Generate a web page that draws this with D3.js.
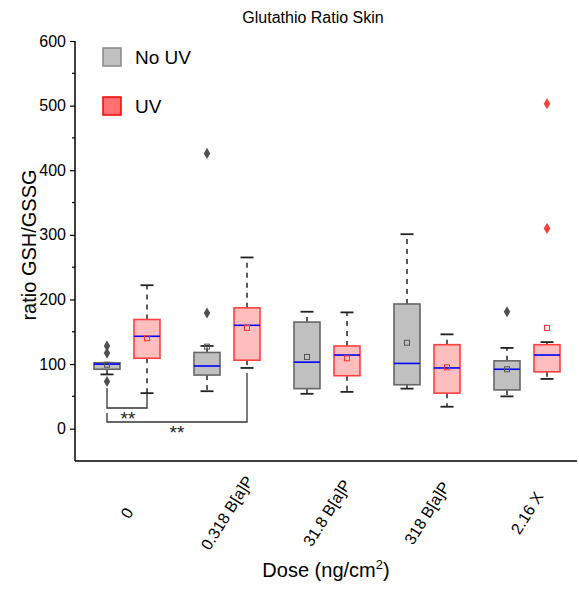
<!DOCTYPE html>
<html><head><meta charset="utf-8">
<script src="https://cdn.jsdelivr.net/npm/d3@7"></script>
<style>body{margin:0;background:#fff}svg{display:block;font-family:"Liberation Sans",Arial,sans-serif}</style>
</head><body><svg id="c" width="579" height="589"></svg>
<script>
const categories = ["0", "0.318 B[a]P", "31.8 B[a]P", "318 B[a]P", "2.16 X"];
const seriesNames = ["No UV", "UV"];
const yTicks = [0, 100, 200, 300, 400, 500, 600];

// No UV
const noUvWhiskerLow = [84, 58, 54, 62, 50];
const noUvQ1 = [92, 83, 62, 68, 60];
const noUvMedian = [100, 97, 103, 101, 92];
const noUvQ3 = [102, 118, 165, 193, 105];
const noUvWhiskerHigh = [102, 128, 181, 301, 125];
const noUvMean = [99, 127, 111, 133, 92];
const noUvOutliers = [[128, 117, 73], [179, 426], [], [], [181]];

// UV
const uvWhiskerLow = [55, 94, 57, 34, 77];
const uvQ1 = [109, 106, 82, 55, 88];
const uvMedian = [143, 160, 114, 94, 114];
const uvQ3 = [169, 187, 128, 130, 130];
const uvWhiskerHigh = [222, 265, 180, 146, 134];
const uvMean = [140, 156, 109, 95, 156];
const uvOutliers = [[], [], [], [], [503, 310]];

const sigLabels = ["**", "**"];

const svg = d3.select("#c");
const y = d3.scaleLinear().domain([-50, 600]).range([461, 41]);
const x = d3.scaleBand().domain(categories).range([77, 577]);
const cx = c => x(c) + x.bandwidth() / 2;
const off = [-20, 20];
const boxW = 26, capW = 13;

const styles = [
  {fill: "#c0c0c0", stroke: "#666666", mean: "#555555", out: "#505050"},
  {fill: "#ffbebe", stroke: "#ff4040", mean: "#ff3030", out: "#ff3a3a"}
];
const seriesData = [
  {lo: noUvWhiskerLow, q1: noUvQ1, med: noUvMedian, q3: noUvQ3, hi: noUvWhiskerHigh, mean: noUvMean, out: noUvOutliers},
  {lo: uvWhiskerLow, q1: uvQ1, med: uvMedian, q3: uvQ3, hi: uvWhiskerHigh, mean: uvMean, out: uvOutliers}
];

// Axes
const yAxis = d3.axisLeft(y).tickValues(yTicks).tickSize(5).tickSizeOuter(0).tickPadding(4);
const gy = svg.append("g").attr("transform", "translate(75,0)").call(yAxis);
gy.selectAll("text").attr("font-size", 16).attr("fill", "#000").attr("font-family", "Liberation Sans, Arial, sans-serif");
gy.selectAll("line").attr("stroke", "#000").attr("stroke-width", 1.2);
gy.select(".domain").remove();
svg.append("line").attr("x1", 75).attr("x2", 75).attr("y1", y(600)).attr("y2", 461).attr("stroke", "#000").attr("stroke-width", 1.5);
const minor = d3.range(0, 600, 100).map(v => v + 50);
svg.append("g").selectAll("line").data(minor).join("line")
  .attr("x1", 72).attr("x2", 75).attr("y1", d => y(d)).attr("y2", d => y(d)).attr("stroke", "#000").attr("stroke-width", 1.2);

svg.append("line").attr("x1", 75).attr("x2", 577).attr("y1", 461).attr("y2", 461).attr("stroke", "#000").attr("stroke-width", 1.5);
svg.append("g").selectAll("text").data(categories).join("text")
  .attr("transform", d => `translate(${cx(d)},513) rotate(-58)`)
  .attr("text-anchor", "middle").attr("dominant-baseline", "central")
  .attr("font-size", 16).text(d => d);

// Titles
svg.append("text").attr("x", 313).attr("y", 23).attr("text-anchor", "middle").attr("font-size", 16).text("Glutathio Ratio Skin");
svg.append("text").attr("transform", "translate(36,245) rotate(-90)").attr("text-anchor", "middle").attr("font-size", 20).text("ratio GSH/GSSG");
const xt = svg.append("text").attr("x", 326).attr("y", 577).attr("text-anchor", "middle").attr("font-size", 20);
xt.append("tspan").text("Dose (ng/cm");
xt.append("tspan").attr("font-size", 13).attr("dy", -8).text("2");
xt.append("tspan").attr("dy", 8).text(")");

// Boxes
seriesData.forEach((s, si) => {
  const st = styles[si];
  const g = svg.append("g");
  categories.forEach((c, i) => {
    const xc = cx(c) + off[si];
    // whiskers
    g.append("line").attr("x1", xc).attr("x2", xc).attr("y1", y(s.q1[i])).attr("y2", y(s.lo[i]))
      .attr("stroke", "#333").attr("stroke-width", 1.6).attr("stroke-dasharray", "5,5");
    g.append("line").attr("x1", xc).attr("x2", xc).attr("y1", y(s.q3[i])).attr("y2", y(s.hi[i]))
      .attr("stroke", "#333").attr("stroke-width", 1.6).attr("stroke-dasharray", "5,5");
    [s.lo[i], s.hi[i]].forEach(v => g.append("line").attr("x1", xc - capW / 2).attr("x2", xc + capW / 2)
      .attr("y1", y(v)).attr("y2", y(v)).attr("stroke", "#222").attr("stroke-width", 1.8));
    g.append("rect").attr("x", xc - boxW / 2).attr("y", y(s.q3[i])).attr("width", boxW)
      .attr("height", y(s.q1[i]) - y(s.q3[i])).attr("fill", st.fill).attr("stroke", st.stroke).attr("stroke-width", 1.6);
    g.append("line").attr("x1", xc - boxW / 2).attr("x2", xc + boxW / 2).attr("y1", y(s.med[i])).attr("y2", y(s.med[i]))
      .attr("stroke", "#0000ff").attr("stroke-width", 1.6);
    g.append("rect").attr("x", xc - 2.5).attr("y", y(s.mean[i]) - 2.5).attr("width", 5).attr("height", 5)
      .attr("fill", "none").attr("stroke", st.mean).attr("stroke-width", 1);
    s.out[i].forEach(v => g.append("path").attr("d", d3.symbol(d3.symbolDiamond, 36)())
      .attr("transform", `translate(${xc},${y(v)})`).attr("fill", st.out));
  });
});

// Significance brackets
const br = svg.append("g").attr("stroke", "#333").attr("stroke-width", 1.3).attr("fill", "none");
const x0 = cx(categories[0]) + off[0], x0u = cx(categories[0]) + off[1], x1u = cx(categories[1]) + off[1];
br.append("path").attr("d", `M${x0},388V408H${x0u}V394`);
br.append("path").attr("d", `M${x0},413V422H${x1u}V373`);
svg.append("text").attr("x", (x0 + x0u) / 2 + 1).attr("y", 425).attr("text-anchor", "middle").attr("font-size", 19).attr("fill", "#222").text(sigLabels[0]);
svg.append("text").attr("x", 177).attr("y", 439).attr("text-anchor", "middle").attr("font-size", 19).attr("fill", "#222").text(sigLabels[1]);

// Legend
const leg = svg.append("g");
seriesNames.forEach((n, i) => {
  const yy = 48 + i * 49;
  leg.append("rect").attr("x", 103).attr("y", yy).attr("width", 18).attr("height", 18)
    .attr("fill", i === 0 ? "#c0c0c0" : "#ff7070").attr("stroke", i === 0 ? "#888" : "#ff0000").attr("stroke-width", 1.5);
  leg.append("text").attr("x", 135).attr("y", yy + 16).attr("font-size", 19).text(n);
});
</script></body></html>
